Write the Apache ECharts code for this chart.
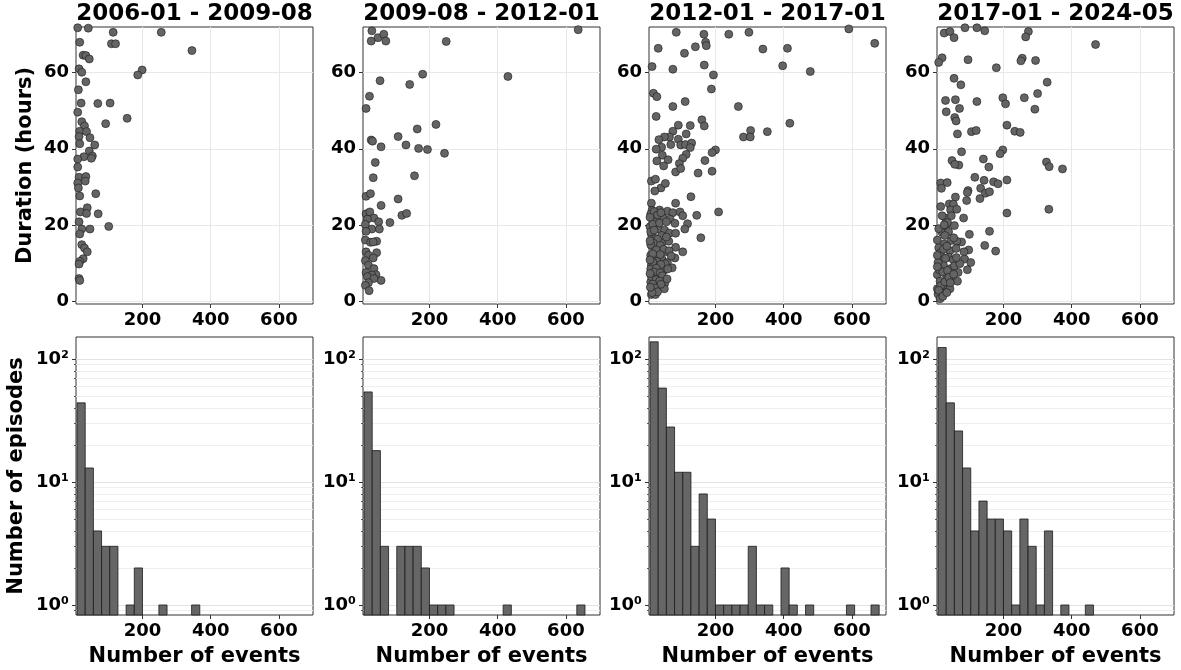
<!DOCTYPE html>
<html>
<head>
<meta charset="utf-8">
<script src="https://cdn.jsdelivr.net/npm/echarts@6/dist/echarts.min.js"></script>
<style>
  html, body { margin: 0; padding: 0; background: #fff; }
  #main { width: 1181px; height: 670px; }
</style>
</head>
<body>
<div id="main"></div>
<script>
var FONT = 'DejaVu Sans';

// panel titles
var periods = ['2006-01 - 2009-08', '2009-08 - 2012-01', '2012-01 - 2017-01', '2017-01 - 2024-05'];

// tick values
var eventTicks = [200, 400, 600];
var durationTicks = [0, 20, 40, 60];
var logTicks = [1, 10, 100];
var logMinorTicks = [0.9, 2, 3, 4, 5, 6, 7, 8, 9, 20, 30, 40, 50, 60, 70, 80, 90];
var supers = ['⁰', '¹', '²'];

// histogram bin edges (number of events)
var binEdges = [8, 32, 56, 80, 104, 128, 152, 176, 200, 224, 248, 272, 296, 320, 344,
                368, 392, 416, 440, 464, 488, 512, 536, 560, 584, 608, 632, 656, 680];

// episodes per bin
var hist1 = [44, 13, 4, 3, 3, 0, 1, 2, 0, 0, 1, 0, 0, 0, 1];
var hist2 = [54, 18, 3, 0, 3, 3, 3, 2, 1, 1, 1, 0, 0, 0, 0, 0, 0, 1, 0, 0, 0, 0, 0, 0, 0, 0, 1];
var hist3 = [138, 58, 28, 12, 12, 3, 8, 5, 1, 1, 1, 1, 3, 1, 1, 0, 2, 1, 0, 1, 0, 0, 0, 0, 1, 0, 0, 1];
var hist4 = [124, 44, 26, 13, 4, 7, 5, 5, 4, 1, 5, 3, 1, 4, 0, 1, 0, 0, 1];

// [number of events, duration (hours)]
var pts1 = [[10,71.8],[41,71.7],[114,70.6],[255,70.6],[16,68],[109,67.6],[121,67.6],[345,65.8],[26,64.6],[34,64.5],
  [44,63.6],[14,61],[22,60.1],[199,60.7],[186,59.4],[34,57.6],[12,55.5],[20,52],[69,51.9],[105,52],[10,49.6],[155,48],
  [92,46.6],[22,47.1],[30,46],[16,44.6],[36,44.5],[14,43.2],[46,42.9],[60,41],[16,41.3],[44,39.4],[53,38.1],[28,37.9],
  [50,37.5],[10,37.3],[10,35.2],[14,32.5],[34,32.7],[32,31.5],[10,31],[12,29.7],[16,27.6],[63,28.2],[38,24.5],[18,23.4],
  [36,23],[70,22.9],[14,20.8],[22,18.9],[46,18.9],[101,19.6],[16,17.6],[22,14.8],[30,13.9],[38,12.9],[26,11.1],[16,10.4],
  [14,9.7],[14,5.9],[16,5.4]];

var pts2 = [[31,71],[49,69.2],[66,70.1],[29,68.3],[72,68.3],[249,68.2],[636,71.3],[430,59],[180,59.6],[55,57.9],[142,56.9],
  [24,53.8],[14,50.6],[219,46.4],[164,45.2],[108,43.2],[29,42.3],[33,42],[58,40.5],[131,41],[168,40.1],[194,39.8],[244,38.8],
  [41,36.4],[35,32.4],[156,32.9],[14,27.5],[27,28.2],[108,26.8],[58,25.1],[119,22.5],[133,23],[14,22.9],[25,23.4],[37,21.8],
  [18,21.5],[51,20.8],[84,20.6],[12,20.1],[31,18.9],[14,18.3],[53,18.9],[12,16],[27,15.4],[45,15.7],[35,15.5],[14,12.9],
  [45,12.7],[21,12],[35,11.3],[12,10.6],[21,9.4],[37,8.5],[14,7.5],[43,6.9],[31,6.8],[18,6.4],[58,5.4],[37,5.9],[21,4.8],
  [12,4.1],[23,2.7]];

var pts3 = [[85,70.6],[166,70.1],[239,70.1],[298,70.6],[171,68],[173,67.1],[141,66.8],[32,66.4],[109,65.1],[339,66.2],
  [591,71.5],[667,67.7],[411,66.4],[397,61.8],[478,60.3],[14,61.6],[75,60.9],[167,62],[194,59.4],[188,55.7],[18,54.6],
  [28,53.7],[111,52.4],[75,51.1],[267,51.1],[26,48.5],[160,47.6],[167,46],[91,46.2],[126,46.1],[418,46.7],[75,44.6],
  [114,43.9],[65,43.1],[50,43.1],[34,42.4],[91,42.5],[303,44.8],[352,44.5],[282,43.1],[302,43.1],[42,40.4],[26,39.9],
  [69,41.1],[98,41],[112,41.1],[130,41.5],[126,40.3],[200,39.7],[190,39],[44,38.3],[114,38.5],[28,36.8],[61,37.1],[104,37.5],
  [48,35.5],[94,36.1],[169,36.9],[83,33.9],[98,34.8],[149,33.6],[190,34.1],[12,31.5],[24,32],[40,29.7],[53,30.9],[22,28.9],
  [128,27.4],[12,25.7],[83,25.7],[209,23.4],[145,22.5],[14,23.8],[36,23.9],[59,23.6],[75,23.2],[96,23.4],[104,22.4],[18,22.2],
  [46,21.8],[67,21.5],[26,20.8],[81,20.4],[118,20.3],[110,18.9],[8,19.5],[34,18.9],[51,18.6],[12,17.5],[65,17.8],[83,17.8],
  [157,16.6],[24,16.4],[44,15.5],[14,14.5],[63,15.7],[83,14.1],[104,12.9],[32,13.1],[53,12.9],[10,12],[24,11],[81,11.3],
  [44,10.8],[59,10.1],[12,9.4],[34,8.9],[73,8.7],[48,8],[18,6.9],[32,6.1],[51,4.6],[10,5],[28,3.9],[18,2.7],[50,3.2],
  [12,1.7],[24,1.7],[10,22.8],[20,23.5],[30,22.6],[40,23.2],[16,20.2],[36,20.5],[56,20.8],[10,18.2],[20,18.6],[42,17.2],
  [56,16.8],[30,16.2],[18,15.2],[38,14.6],[10,14.8],[48,13.6],[26,13.4],[64,13.2],[16,12.4],[38,12.2],[70,11.8],[28,10.4],
  [52,9.8],[16,10.2],[40,9.6],[10,8.4],[26,8.6],[60,8.4],[20,7.6],[38,7.4],[12,6.4],[44,6.6],[26,5.6],[36,5.2],[16,4.4],
  [40,4.4],[22,3.4],[30,2.4],[14,2.2],[58,5.8],[8,10.8],[8,15.8],[8,22],[8,7.2],[9,3.6]];

var pts4 = [[26,70.4],[43,70.8],[55,69.2],[87,71.8],[122,71.8],[145,71],[273,70.8],[265,69.4],[20,63.9],[10,62.7],[96,63.4],
  [179,61.3],[255,63.8],[251,63.1],[294,63.2],[470,67.4],[55,58.5],[75,56.8],[328,57.5],[30,52.7],[59,52.9],[122,52.4],
  [198,53.4],[206,51.8],[261,53.4],[300,54.5],[292,50.4],[32,49.7],[71,50.6],[57,48.2],[61,47.3],[65,43.9],[106,44.5],
  [120,44.8],[210,46.2],[233,44.6],[249,44.3],[77,39.2],[198,39.7],[190,38.7],[141,37.3],[157,35.2],[69,35.7],[49,36.9],
  [57,35.9],[326,36.5],[334,35.3],[373,34.7],[116,32.5],[143,31.7],[171,31.3],[184,30.8],[210,31.8],[96,29],[94,28.5],
  [133,29.6],[147,28.3],[159,28.7],[131,26.9],[92,26.4],[16,31],[35,31.1],[18,29.6],[59,27.3],[41,25.5],[53,25.4],[16,24.8],
  [45,23.9],[63,24.1],[30,21.8],[47,22.4],[83,21.8],[20,22.4],[210,23.1],[333,24.1],[32,19.6],[20,18],[39,18.2],[159,18.3],
  [100,17.5],[47,15.9],[77,15.5],[63,15.7],[26,15],[145,14.6],[177,13.1],[43,13.2],[98,13.4],[61,13.8],[84,12.9],[18,11.7],
  [39,11.5],[86,11],[53,10.8],[104,10.1],[94,8.2],[24,9.4],[45,8.5],[8,10.1],[67,7.5],[6,6.9],[32,6.9],[49,5.7],[14,5.2],
  [65,5.2],[32,3.2],[20,2.2],[8,1.8],[24,4.1],[6,3.2],[14,0.6],[43,3.2],[10,14],[14,12.6],[24,13.6],[34,14.4],[54,16.6],
  [28,17.2],[10,19],[36,20.6],[56,19.8],[26,20],[12,8.2],[22,7.6],[36,8],[56,9.2],[72,9.8],[30,11.2],[62,11.4],[16,4],
  [28,5],[40,6.2],[54,7],[10,2.8],[22,1.2],[34,2.2],[44,4.8],[6,12],[6,16],[6,9]];

var scatterSets = [pts1, pts2, pts3, pts4];
var histSets = [hist1, hist2, hist3, hist4];

var lefts = [76, 363, 649, 937];
var W = 237;
var X_MIN = 5, X_MAX = 700;
var LOG_MIN = 0.829, LOG_MAX = 151;

function histData(counts) {
    var out = [];
    for (var k = 0; k < counts.length; k++) {
        if (counts[k] > 0) out.push([binEdges[k], binEdges[k + 1], counts[k]]);
    }
    return out;
}

function renderBar(params, api) {
    var p0 = api.coord([api.value(0), api.value(2)]);
    var p1 = api.coord([api.value(1), api.value(2)]);
    var cs = params.coordSys;
    var bottom = cs.y + cs.height;
    return {
        type: 'rect',
        shape: { x: p0[0], y: p0[1], width: p1[0] - p0[0], height: bottom - p0[1] },
        style: { fill: '#666666', stroke: '#1a1a1a', lineWidth: 0.8 }
    };
}

var labelStyle = { fontFamily: FONT, fontWeight: 'bold', fontSize: 18, color: '#000', margin: 7 };
var tickStyle = { show: true, length: 4, lineStyle: { color: '#333', width: 1 } };
var nameStyle = { fontFamily: FONT, fontWeight: 'bold', fontSize: 21, color: '#000' };

var grid = [], xAxis = [], yAxis = [], series = [], graphic = [];

for (var i = 0; i < 4; i++) {
    grid.push({ left: lefts[i], top: 27, width: W, height: 277, show: true,
                borderColor: '#333', borderWidth: 1, backgroundColor: '#fff', outerBoundsMode: 'none' });
}
for (var i = 0; i < 4; i++) {
    grid.push({ left: lefts[i], top: 337, width: W, height: 278, show: true,
                borderColor: '#333', borderWidth: 1, backgroundColor: '#fff', outerBoundsMode: 'none' });
}

// top row: scatter axes
for (var i = 0; i < 4; i++) {
    xAxis.push({
        type: 'value', gridIndex: i, min: X_MIN, max: X_MAX,
        axisLine: { show: false, onZero: false },
        axisTick: Object.assign({ customValues: eventTicks }, tickStyle),
        axisLabel: Object.assign({ customValues: eventTicks }, labelStyle),
        splitLine: { show: true, lineStyle: { color: '#e8e8e8', width: 1 } }
    });
    yAxis.push({
        type: 'value', gridIndex: i, min: -0.8, max: 72,
        name: i === 0 ? 'Duration (hours)' : '', nameLocation: 'middle', nameGap: 40,
        nameTextStyle: nameStyle,
        axisLine: { show: false, onZero: false },
        axisTick: Object.assign({ customValues: durationTicks }, tickStyle),
        axisLabel: Object.assign({ customValues: durationTicks }, labelStyle),
        splitLine: { show: true, lineStyle: { color: '#e8e8e8', width: 1 } }
    });
}
// bottom row: histogram axes
for (var i = 0; i < 4; i++) {
    xAxis.push({
        type: 'value', gridIndex: 4 + i, min: X_MIN, max: X_MAX,
        name: 'Number of events', nameLocation: 'middle', nameGap: 31, nameTextStyle: nameStyle,
        axisLine: { show: false, onZero: false },
        axisTick: Object.assign({ customValues: eventTicks }, tickStyle),
        axisLabel: Object.assign({ customValues: eventTicks }, labelStyle),
        splitLine: { show: false }
    });
}
for (var i = 0; i < 4; i++) {
    yAxis.push({
        type: 'log', logBase: 10, gridIndex: 4 + i, min: LOG_MIN, max: LOG_MAX, position: 'left',
        name: i === 0 ? 'Number of episodes' : '', nameLocation: 'middle', nameGap: 49,
        nameTextStyle: nameStyle,
        axisLine: { show: false, onZero: false },
        axisTick: Object.assign({ customValues: logTicks }, tickStyle),
        axisLabel: Object.assign({
            customValues: logTicks,
            formatter: function (v) { return '10' + supers[Math.round(Math.log10(v))]; }
        }, labelStyle),
        splitLine: { show: true, lineStyle: { color: '#e3e3e3', width: 1 } }
    });
}
// minor log ticks / grid
for (var i = 0; i < 4; i++) {
    yAxis.push({
        type: 'log', logBase: 10, gridIndex: 4 + i, min: LOG_MIN, max: LOG_MAX, position: 'left',
        axisLine: { show: false, onZero: false },
        axisTick: { show: true, customValues: logMinorTicks, length: 2, lineStyle: { color: '#333', width: 0.8 } },
        axisLabel: { show: false },
        splitLine: { show: true, lineStyle: { color: '#efefef', width: 1 } }
    });
}

for (var i = 0; i < 4; i++) {
    series.push({
        type: 'scatter', xAxisIndex: i, yAxisIndex: i,
        data: scatterSets[i], symbol: 'circle', symbolSize: 8,
        itemStyle: { color: '#646464', borderColor: '#1a1a1a', borderWidth: 0.6, opacity: 1 },
        silent: true
    });
    series.push({
        type: 'custom', xAxisIndex: 4 + i, yAxisIndex: 4 + i,
        renderItem: renderBar, data: histData(histSets[i]),
        encode: { x: [0, 1], y: 2 }, silent: true
    });
    graphic.push({
        type: 'text', x: lefts[i] + W / 2, y: 3,
        style: { text: periods[i], fill: '#000', font: 'bold 23px "DejaVu Sans"', textAlign: 'center', textVerticalAlign: 'top' }
    });
}

var chart = echarts.init(document.getElementById('main'), null, { renderer: 'canvas' });
chart.setOption({
    animation: false,
    backgroundColor: '#fff',
    textStyle: { fontFamily: FONT },
    grid: grid,
    xAxis: xAxis,
    yAxis: yAxis,
    series: series,
    graphic: graphic
});
</script>
</body>
</html>
